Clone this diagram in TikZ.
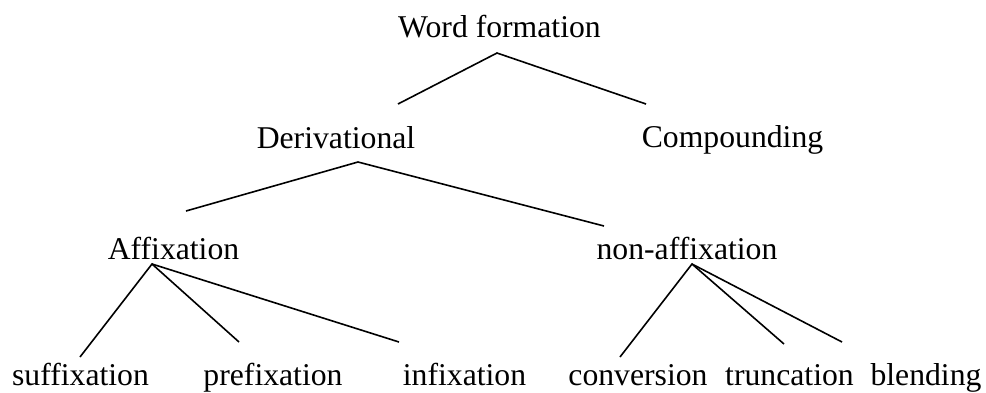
\documentclass[tikz,border=0pt]{standalone}
\usepackage{fontspec}
\setmainfont{Liberation Serif}
\begin{document}
\begin{tikzpicture}[x=1pt,y=-1pt,
  lbl/.style={anchor=base,inner sep=0pt,font=\fontsize{31.7}{36}\selectfont},
  edge/.style={line width=1.6pt,line cap=butt}]
\useasboundingbox (0,0) rectangle (986,392);
% labels
\node[lbl] (wf) at (499.5,37) {Word formation};
\node[lbl] (der) at (336,148) {Derivational};
\node[lbl] (comp) at (732.5,147) {Compounding};
\node[lbl] (aff) at (173.5,259) {Affixation};
\node[lbl] (naff) at (687,259) {non-affixation};
\node[lbl] (suf) at (80.5,385) {suffixation};
\node[lbl] (pre) at (273,385) {prefixation};
\node[lbl] (inf) at (464.5,385) {infixation};
\node[lbl] (conv) at (638,385) {conversion};
\node[lbl] (trunc) at (789.5,385) {truncation};
\node[lbl] (blend) at (926,385) {blending};
% connector ends
\coordinate (wfA) at (497,53);
\coordinate (derT) at (398,104);
\coordinate (compT) at (646,104);
\coordinate (derA) at (358,162);
\coordinate (affT) at (186,211);
\coordinate (naffT) at (604,226);
\coordinate (affA) at (152,264);
\coordinate (sufT) at (80,357);
\coordinate (preT) at (239,342);
\coordinate (infT) at (399,342);
\coordinate (naffA) at (692,264);
\coordinate (convT) at (620,357);
\coordinate (truncT) at (784,344);
\coordinate (blendT) at (842,342);
% connectors
\draw[edge] (derT) -- (wfA) -- (compT);
\draw[edge] (affT) -- (derA) -- (naffT);
\draw[edge] (sufT) -- (affA) -- (preT);
\draw[edge] (affA) -- (infT);
\draw[edge] (convT) -- (naffA) -- (truncT);
\draw[edge] (naffA) -- (blendT);
\end{tikzpicture}
\end{document}
